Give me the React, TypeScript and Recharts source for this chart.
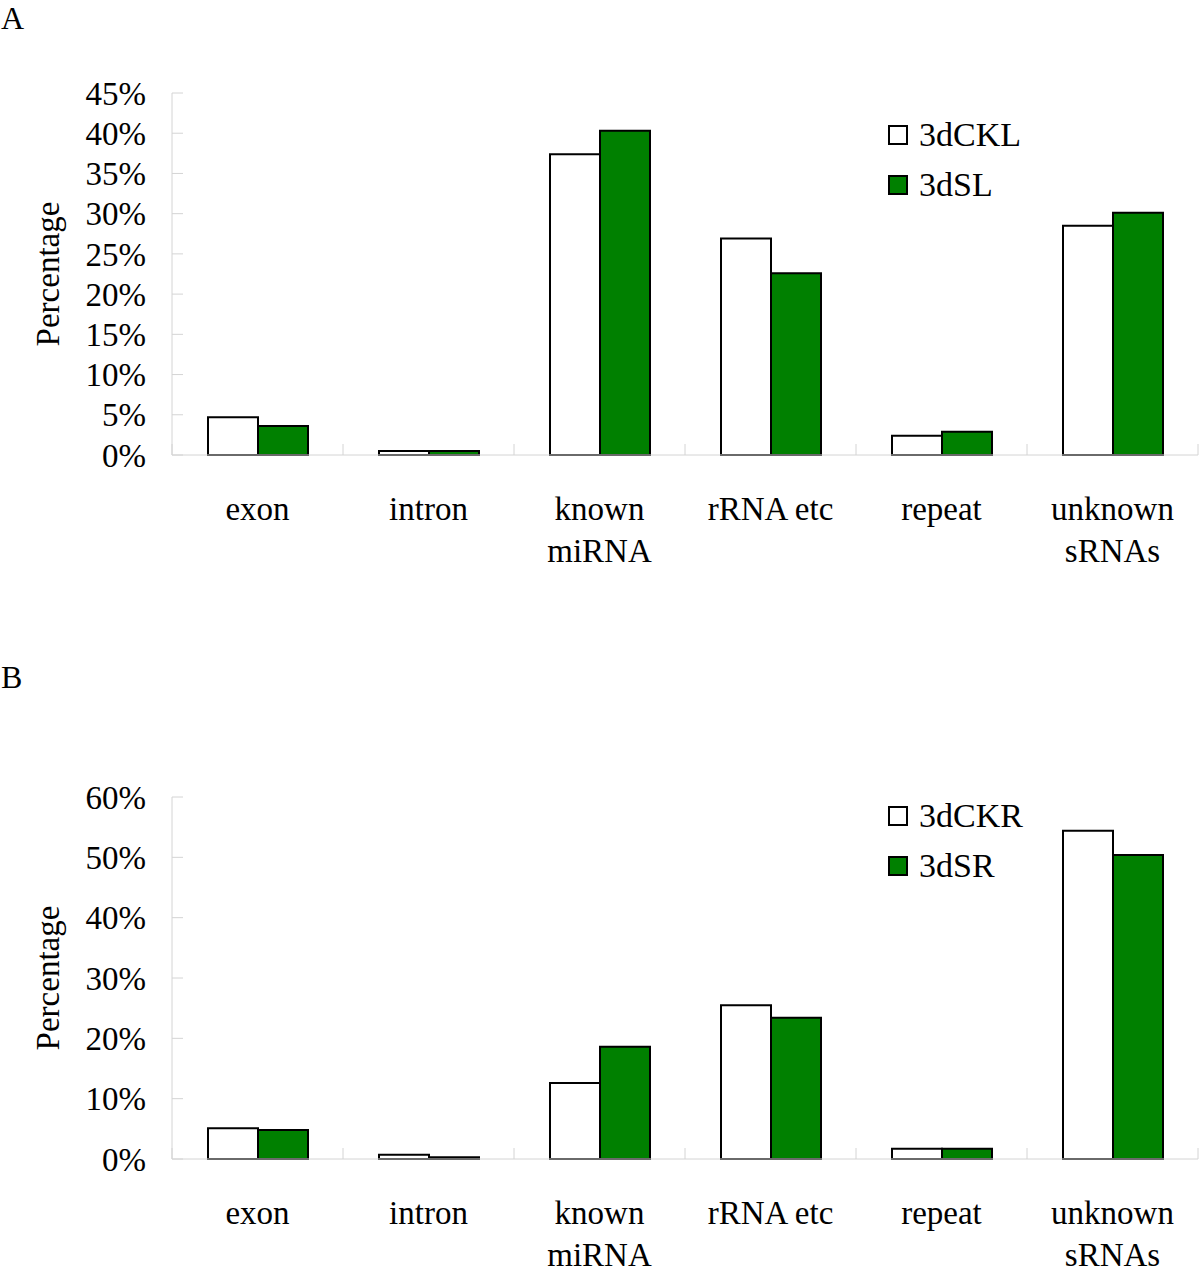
import { BarChart, Bar, XAxis, YAxis, Legend } from "recharts"

const categories = ["exon", "intron", "known\nmiRNA", "rRNA etc", "repeat", "unknown\nsRNAs"]

// panel A (leaves)
const ckl = [4.7, 0.5, 37.4, 26.9, 2.4, 28.5]
const sl = [3.6, 0.5, 40.3, 22.6, 2.9, 30.1]
const ticksA = [0, 5, 10, 15, 20, 25, 30, 35, 40, 45]

// panel B (roots)
const ckr = [5.1, 0.7, 12.6, 25.5, 1.7, 54.4]
const sr = [4.8, 0.3, 18.6, 23.4, 1.7, 50.4]
const ticksB = [0, 10, 20, 30, 40, 50, 60]

const FONT = "'Liberation Serif', 'Times New Roman', serif"
const AXIS = "#d4d4d4"
const GREEN = "#008000"
const W = 1200
const H = 580
const Y_W = 172
const BAND = (W - Y_W - 2) / categories.length

function CatTick(props: any) {
  const { x, y, payload, index } = props
  const lines = String(payload.value).split("\n")
  const h = BAND / 2
  return (
    <g>
      <line x1={x - h} x2={x - h} y1={y} y2={y - 11} stroke={AXIS} />
      {index === categories.length - 1 && <line x1={x + h} x2={x + h} y1={y} y2={y - 11} stroke={AXIS} />}
      <text x={x} y={y} textAnchor="middle" fontSize={33} fontFamily={FONT} fill="#000">
        {lines.map((l, i) => (
          <tspan key={i} x={x} dy={i === 0 ? 65 : 42}>{l}</tspan>
        ))}
      </text>
    </g>
  )
}

function makeLegend(names: string[]) {
  return () => (
    <div style={{ fontFamily: FONT, fontSize: 34, color: "#000" }}>
      {names.map((n, i) => (
        <div key={n} style={{ display: "flex", alignItems: "center", height: 50 }}>
          <div style={{ width: 16, height: 16, border: "2px solid #000", background: i === 0 ? "#fff" : GREEN, marginRight: 11 }} />
          <span>{n}</span>
        </div>
      ))}
    </div>
  )
}

function Panel({ a, b, names, ticks, max, legendTop }: { a: number[]; b: number[]; names: string[]; ticks: number[]; max: number; legendTop: number }) {
  const data = categories.map((c, i) => ({ cat: c, a: a[i], b: b[i] }))
  return (
    <BarChart width={W} height={H} data={data} margin={{ top: 93, right: 2, left: 0, bottom: 20 }} barGap={0} barSize={50}>
      <XAxis dataKey="cat" height={105} stroke={AXIS} tickLine={false} tickSize={0} tickMargin={0} tick={<CatTick />} interval={0} />
      <YAxis
        width={Y_W}
        domain={[0, max]}
        ticks={ticks}
        interval={0}
        stroke={AXIS}
        tickSize={-11}
        tickMargin={37}
        tickFormatter={(v) => `${v}%`}
        tick={{ fontSize: 33, fontFamily: FONT, fill: "#000" }}
        label={({ viewBox }: any) => {
          const cx = 48
          const cy = viewBox.y + viewBox.height / 2
          return (
            <text x={cx} y={cy} transform={`rotate(-90, ${cx}, ${cy})`} textAnchor="middle" dominantBaseline="central" fontSize={33} fontFamily={FONT} fill="#000">
              Percentage
            </text>
          )
        }}
      />
      <Legend layout="vertical" align="center" verticalAlign="middle" content={makeLegend(names)} wrapperStyle={{ top: legendTop, left: 888, width: 250 }} />
      <Bar dataKey="a" name={names[0]} fill="#fff" stroke="#000" strokeWidth={2} isAnimationActive={false} />
      <Bar dataKey="b" name={names[1]} fill={GREEN} stroke="#000" strokeWidth={2} isAnimationActive={false} />
    </BarChart>
  )
}

export default function App() {
  return (
    <div style={{ position: "absolute", top: 0, left: 0, width: 1200, height: 1268, background: "#fff", fontFamily: FONT, overflow: "hidden" }}>
      <div style={{ position: "absolute", top: 2, left: 1, fontSize: 32, lineHeight: "32px" }}>A</div>
      <div style={{ position: "absolute", top: 0, left: 0 }}>
        <Panel a={ckl} b={sl} names={["3dCKL", "3dSL"]} ticks={ticksA} max={45} legendTop={110} />
      </div>
      <div style={{ position: "absolute", top: 661, left: 1, fontSize: 32, lineHeight: "32px" }}>B</div>
      <div style={{ position: "absolute", top: 704, left: 0 }}>
        <Panel a={ckr} b={sr} names={["3dCKR", "3dSR"]} ticks={ticksB} max={60} legendTop={87} />
      </div>
    </div>
  )
}
